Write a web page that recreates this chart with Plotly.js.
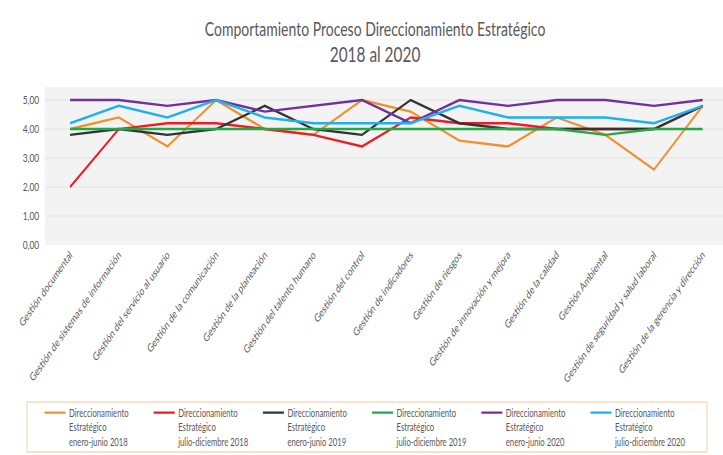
<!DOCTYPE html>
<html><head><meta charset="utf-8">
<script src="https://cdn.plot.ly/plotly-3.0.1.min.js"></script>
<style>
html,body{margin:0;padding:0;background:#fff;overflow:hidden;width:723px;height:455px}
#chart{width:1033px;height:455px;transform:scaleX(0.7);transform-origin:0 0}
</style>
</head><body><div id="chart"></div>
<script>
const categories = [
  "Gestión documental",
  "Gestión de sistemas de información",
  "Gestión del servicio al usuario",
  "Gestión de la comunicación",
  "Gestión de la planeación",
  "Gestión del talento humano",
  "Gestión del control",
  "Gestión de indicadores",
  "Gestión de riesgos",
  "Gestión de innovación y mejora",
  "Gestión de la calidad",
  "Gestión Ambiental",
  "Gestión de seguridad y salud laboral",
  "Gestión de la gerencia y dirección"
];
const seriesNames = [
  "Direccionamiento<br>Estratégico<br>enero-junio 2018",
  "Direccionamiento<br>Estratégico<br>julio-diciembre 2018",
  "Direccionamiento<br>Estratégico<br>enero-junio 2019",
  "Direccionamiento<br>Estratégico<br>julio-diciembre 2019",
  "Direccionamiento<br>Estratégico<br>enero-junio 2020",
  "Direccionamiento<br>Estratégico<br>julio-diciembre 2020"
];
const ej2018 = [4.0, 4.4, 3.4, 5.0, 4.0, 3.8, 5.0, 4.6, 3.6, 3.4, 4.4, 3.8, 2.6, 4.8];
const jd2018 = [2.0, 4.0, 4.2, 4.2, 4.0, 3.8, 3.4, 4.4, 4.2, 4.2, 4.0, 4.0, 4.0, 4.8];
const ej2019 = [3.8, 4.0, 3.8, 4.0, 4.8, 4.0, 3.8, 5.0, 4.2, 4.0, 4.0, 4.0, 4.0, 4.8];
const jd2019 = [4.0, 4.0, 4.0, 4.0, 4.0, 4.0, 4.0, 4.0, 4.0, 4.0, 4.0, 3.8, 4.0, 4.0];
const ej2020 = [5.0, 5.0, 4.8, 5.0, 4.6, 4.8, 5.0, 4.2, 5.0, 4.8, 5.0, 5.0, 4.8, 5.0];
const jd2020 = [4.2, 4.8, 4.4, 5.0, 4.4, 4.2, 4.2, 4.2, 4.8, 4.4, 4.4, 4.4, 4.2, 4.8];
const yTickVals = [0, 1, 2, 3, 4, 5];
const yTickText = ["0,00", "1,00", "2,00", "3,00", "4,00", "5,00"];

const seriesValues = [ej2018, jd2018, ej2019, jd2019, ej2020, jd2020];
const colors = ["#F0902F", "#EE1C25", "#333333", "#22A846", "#7030A0", "#1FB1EE"];
const FONT = "Lato, 'Open Sans', sans-serif";
const GREY = "#595959";

// page is drawn 1/0.7 wider and squeezed horizontally, like the reference image
const SQ = 0.7, W = 1033, H = 455;
const M = {l: 64, r: 0, t: 87, b: 210};
const plotW = W - M.l - M.r, plotH = H - M.t - M.b;
const px2paperX = x => (x / SQ - M.l) / plotW;
const px2paperY = y => (H - M.b - y) / plotH;

const traces = seriesValues.map((vals, i) => ({
  type: "scatter", mode: "lines",
  x: categories, y: vals, name: seriesNames[i],
  line: {color: colors[i], width: 2.4}
}));

const layout = {
  width: W, height: H,
  margin: M,
  paper_bgcolor: "#ffffff",
  plot_bgcolor: "#f3f3f3",
  font: {family: FONT, color: GREY, size: 11},
  title: {
    text: "Comportamiento Proceso Direccionamiento Estratégico<br><span style='font-size:22px'>2018 al 2020</span>",
    font: {family: FONT, size: 20, color: GREY},
    xref: "container", x: 375 / 723, xanchor: "center",
    yref: "container", y: 1 - 36 / 455, yanchor: "top"
  },
  xaxis: {
    type: "category", range: [-0.52, 13.42],
    tickangle: -45, showgrid: false, zeroline: false, showline: false,
    ticks: "", tickfont: {family: FONT, size: 11.5, color: GREY}
  },
  yaxis: {
    range: [0, 5.45], tickvals: yTickVals, ticktext: yTickText,
    showgrid: true, gridcolor: "#e0e0e0", gridwidth: 1, zeroline: false,
    ticks: "", ticklabelstandoff: 7,
    tickfont: {family: FONT, size: 12, color: GREY}
  },
  shapes: [{
    type: "rect", xref: "paper", yref: "paper",
    x0: px2paperX(27), x1: px2paperX(707),
    y0: px2paperY(402), y1: px2paperY(452),
    line: {color: "#F5C69C", width: 1.2}, fillcolor: "rgba(0,0,0,0)", layer: "above"
  }],
  showlegend: true,
  legend: {
    orientation: "h", xref: "container", yref: "container",
    x: 41 / 723, xanchor: "left", y: 1 - 399 / 455, yanchor: "top",
    borderwidth: 0, bgcolor: "rgba(0,0,0,0)",
    font: {family: FONT, size: 11, color: GREY},
    entrywidth: 111, entrywidthmode: "pixels", tracegroupgap: 0,
    itemwidth: 30, valign: "top"
  }
};

Plotly.newPlot("chart", traces, layout, {displayModeBar: false, staticPlot: true});
</script>
</body></html>
